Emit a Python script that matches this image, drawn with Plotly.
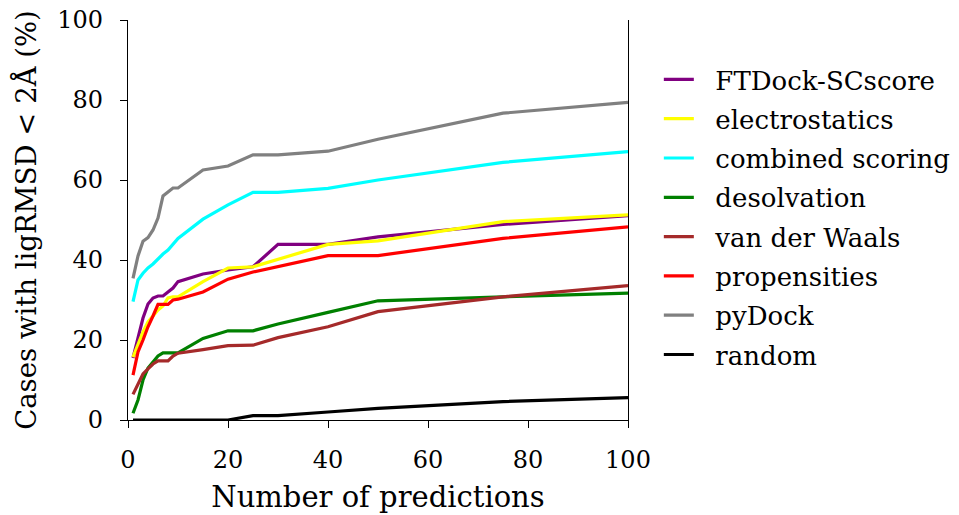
import plotly.graph_objects as go

# Number of top-ranked predictions considered
n_predictions = [1, 2, 3, 4, 5, 6, 7, 8, 9, 10, 15, 20, 25, 30, 40, 50, 75, 100]

# Success rate (%) per scoring scheme
ftdock_scscore = [15.5, 20.5, 25.5, 29.0, 30.5, 31.0, 31.0, 32.0, 33.0, 34.6, 36.5, 37.5, 38.3, 43.9, 43.9, 45.8, 48.9, 51.1]
electrostatics = [15.7, 19.0, 22.0, 24.5, 26.0, 27.5, 28.5, 30.5, 30.8, 30.8, 34.6, 38.0, 38.3, 40.2, 43.9, 44.8, 49.6, 51.3]
combined_scoring = [29.6, 35.0, 36.7, 38.0, 39.0, 40.4, 41.5, 42.5, 44.0, 45.4, 50.2, 53.8, 56.9, 56.9, 57.9, 60.0, 64.4, 67.1]
desolvation = [1.7, 5.0, 10.0, 13.0, 14.5, 16.0, 16.8, 16.8, 16.8, 16.8, 20.4, 22.3, 22.3, 24.0, 26.9, 29.8, 30.8, 31.7]
van_der_waals = [6.4, 9.0, 11.5, 12.8, 14.0, 14.8, 14.8, 14.8, 16.0, 16.7, 17.6, 18.6, 18.7, 20.6, 23.3, 27.1, 30.8, 33.6]
propensities = [11.2, 17.0, 20.0, 23.3, 26.0, 28.9, 28.9, 28.9, 30.0, 30.2, 32.0, 35.2, 37.0, 38.3, 41.1, 41.1, 45.4, 48.3]
pydock = [35.4, 41.0, 44.7, 45.6, 47.5, 50.5, 56.0, 57.0, 58.0, 58.0, 62.5, 63.5, 66.3, 66.3, 67.2, 70.2, 76.7, 79.4]
random_rank = [0, 0, 0, 0, 0, 0, 0, 0, 0, 0, 0, 0, 1.1, 1.1, 2.0, 2.9, 4.6, 5.6]

series = [
    ("FTDock-SCscore", ftdock_scscore, "#800080"),
    ("electrostatics", electrostatics, "#FFFF00"),
    ("combined scoring", combined_scoring, "#00FFFF"),
    ("desolvation", desolvation, "#008000"),
    ("van der Waals", van_der_waals, "#A52A2A"),
    ("propensities", propensities, "#FF0000"),
    ("pyDock", pydock, "#808080"),
    ("random", random_rank, "#000000"),
]

FONT = "DejaVu Serif"
TICK_SIZE = 24
LEGEND_SIZE = 26
LABEL_PAD = "\u00a0\u00a0"  # gap between legend line and its label

fig = go.Figure()
for name, values, color in series:
    fig.add_trace(go.Scatter(
        x=n_predictions, y=values, name=LABEL_PAD + name, mode="lines",
        line=dict(color=color, width=3.2),
        legendgroup=name,
    ))

axis_common = dict(
    showgrid=False, zeroline=False, automargin=False,
    showline=True, linecolor="black", linewidth=1.3,
    ticks="outside", ticklen=7, tickwidth=1.3, tickcolor="black",
    tickfont=dict(family=FONT, size=TICK_SIZE, color="black"),
)

fig.update_layout(
    width=959, height=515,
    margin=dict(l=128, r=331, t=20, b=95),
    paper_bgcolor="white", plot_bgcolor="white",
    font=dict(family=FONT, size=TICK_SIZE, color="black"),
    xaxis=dict(
        range=[0, 100], tickvals=[0, 20, 40, 60, 80, 100],
        title=dict(text="Number of predictions", font=dict(family=FONT, size=29), standoff=13),
        ticklabelstandoff=11,
        **axis_common,
    ),
    yaxis=dict(
        range=[0, 100], tickvals=[0, 20, 40, 60, 80, 100],
        mirror=True,
        title=dict(text="Cases with ligRMSD < 2Å (%)", font=dict(family=FONT, size=27.5), standoff=12),
        ticklabelstandoff=12,
        **axis_common,
    ),
    legend=dict(
        xref="container", yref="container",
        x=0.687, y=0.8913, xanchor="left", yanchor="top",
        maxheight=1,
        font=dict(family=FONT, size=LEGEND_SIZE, color="black"),
        tracegroupgap=2.5, itemwidth=30,
        bgcolor="rgba(0,0,0,0)",
    ),
    showlegend=True,
)

fig.write_html("out.html")
